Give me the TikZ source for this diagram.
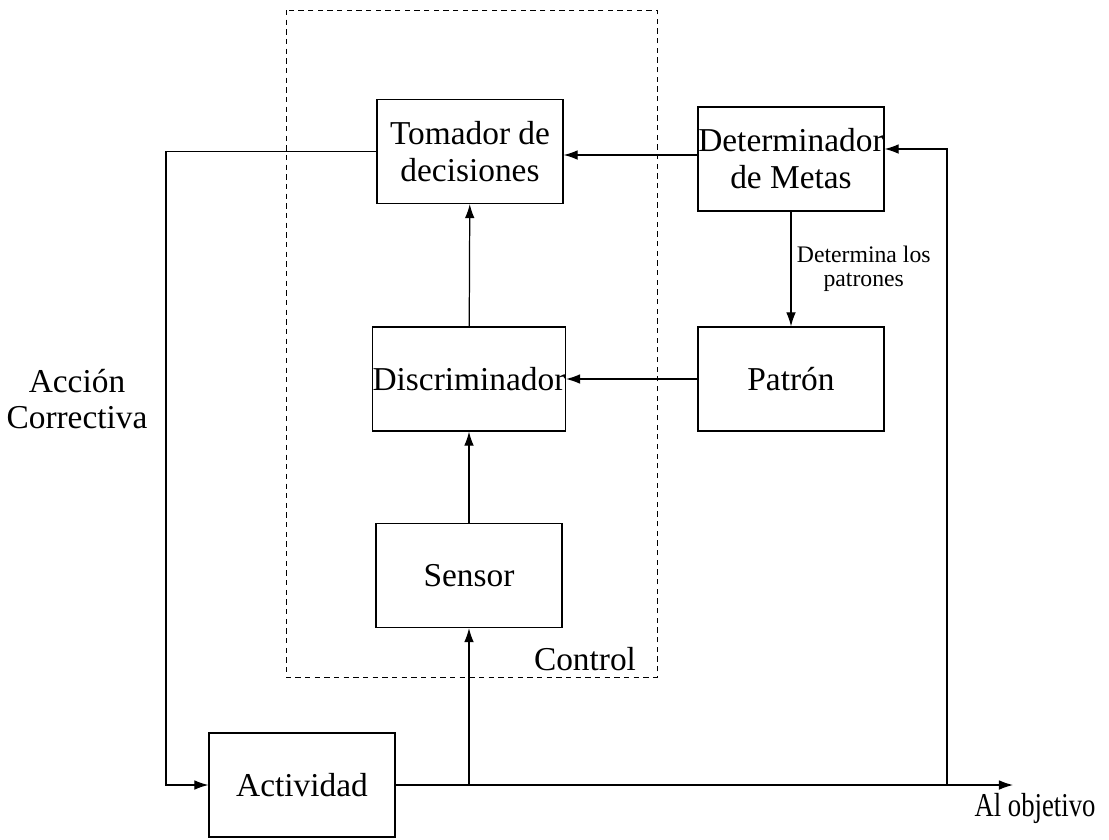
\documentclass[tikz,border=0pt]{standalone}
\usepackage{fontspec}
\setmainfont{Liberation Serif}
\usetikzlibrary{arrows.meta, positioning}

\tikzset{
    bloque/.style={rectangle,draw,line width=0.7pt,minimum width=3.72cm,minimum height=2.08cm,
        align=center,inner sep=0pt,font=\fontsize{19}{21}\selectfont},
    flecha/.style={-{Latex[length=8pt,width=5.5pt]},line width=0.7pt},
    etiqueta/.style={align=center,inner sep=0pt,font=\fontsize{19}{21}\selectfont}
}

\begin{document}
\begin{tikzpicture}[x=0.02cm,y=-0.02cm]
    \useasboundingbox (0,0) rectangle (1109,839);

    % Recuadro de control
    \draw[dashed,line width=0.5pt,dash pattern=on 3pt off 2.5pt] (286,10) rectangle (657,677);
    \node[etiqueta] (control) at (585,659) {Control};

    % Bloques
    \node[bloque] (tomador) at (470,151.5) {Tomador de\\decisiones};
    \node[bloque] (metas) at (791,159) {Determinador\\de Metas};
    \node[bloque] (discrim) at (469,379) {Discriminador};
    \node[bloque] (patron) at (791,379) {Patrón};
    \node[bloque] (sensor) at (469,575.5) {Sensor};
    \node[bloque] (actividad) at (302,785) {Actividad};

    % Puntos de paso
    \coordinate (esquina) at (166,785);
    \coordinate (derivS) at (469,785);
    \coordinate (derivM) at (947,785);
    \coordinate (salida) at (1013,785);

    % Flechas internas
    \draw[flecha] (metas.west |- 0,155) -- (tomador.east |- 0,155);
    \draw[flecha] (discrim) -- (tomador);
    \draw[flecha] (sensor) -- (discrim);
    \draw[flecha] (patron) -- (discrim);
    \draw[flecha] (metas) -- node[right,align=center,inner sep=3pt,
        font=\fontsize{13.5}{13.5}\selectfont] (patrones) {Determina los\\patrones} (patron);

    % Accion correctiva y salida
    \draw[flecha] (tomador.west) -| (esquina) -- (actividad.west);
    \draw[flecha] (actividad.east) -- (salida);
    \draw[flecha] (derivS) -- (sensor);
    \draw[flecha] (derivM) |- (metas.east |- 0,149);

    \node[etiqueta] (correctiva) at (77,399) {Acción\\Correctiva};
    \node[etiqueta] (objetivo) at (1035,808) {\scalebox{0.8}[1]{Al objetivo}};
\end{tikzpicture}
\end{document}
